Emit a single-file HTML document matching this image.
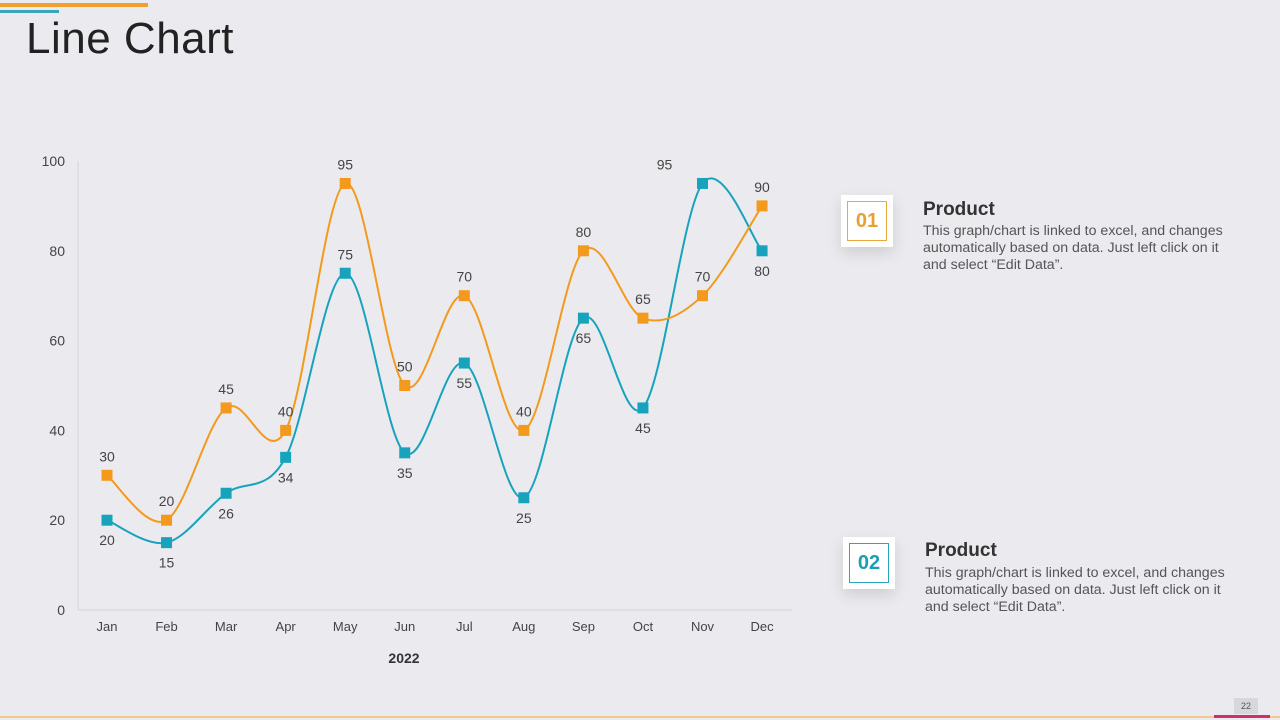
<!DOCTYPE html>
<html><head><meta charset="utf-8"><style>
body{margin:0;width:1280px;height:720px;background:#ebebef;font-family:"Liberation Sans",sans-serif;position:relative;overflow:hidden}
.title{position:absolute;left:26px;top:14px;font-size:44px;color:#222;font-weight:normal;letter-spacing:0.5px}
.card{position:absolute;width:52px;height:52px;background:#fff;box-shadow:0 6px 14px rgba(0,0,0,0.12)}
.card div{position:absolute;left:6px;top:6px;width:40px;height:40px;box-sizing:border-box;font-size:20px;font-weight:bold;display:flex;align-items:center;justify-content:center}
.ph{position:absolute;font-size:19px;font-weight:bold;color:#333}
.pt{position:absolute;font-size:14.2px;color:#555;line-height:17px;width:314px}
</style></head><body>
<div style="position:absolute;left:0;top:3px;width:148px;height:4px;background:#f0a030"></div>
<div style="position:absolute;left:0;top:10px;width:59px;height:3px;background:#3aa6b9"></div>
<div class="title">Line Chart</div>
<svg id="chart" width="1280" height="720" style="position:absolute;left:0;top:0"></svg>
<div class="card" style="left:841px;top:195px"><div style="border:1px solid #e8a93a;color:#e8a030">01</div></div>
<div class="ph" style="left:923px;top:199px">Product</div>
<div class="pt" style="left:923px;top:223px">This graph/chart is linked to excel, and changes automatically based on data. Just left click on it and select “Edit Data”.</div>
<div class="card" style="left:843px;top:537px"><div style="border:1px solid #2aa5bb;color:#1a9db5">02</div></div>
<div class="ph" style="left:925px;top:540px">Product</div>
<div class="pt" style="left:925px;top:565px">This graph/chart is linked to excel, and changes automatically based on data. Just left click on it and select “Edit Data”.</div>
<div style="position:absolute;left:1234px;top:698px;width:24px;height:16px;background:#d8d8dc;font-size:9px;color:#555;text-align:center;line-height:16px">22</div>
<div style="position:absolute;left:0;top:716px;width:1280px;height:2px;background:#f0c890"></div>
<div style="position:absolute;left:1214px;top:715px;width:56px;height:3px;background:#d0306a"></div>
<script>
const categories=["Jan","Feb","Mar","Apr","May","Jun","Jul","Aug","Sep","Oct","Nov","Dec"];
const seriesOrange=[30,20,45,40,95,50,70,40,80,65,70,90];
const seriesTeal=[20,15,26,34,75,35,55,25,65,45,95,80];
const yTicks=[0,20,40,60,80,100];
const tealLabelAbove=[false,false,false,false,true,false,false,false,false,false,true,false];
const NS="http://www.w3.org/2000/svg";
const svg=document.getElementById('chart');
const x=i=>107+i*59.55;
const y=v=>610-v*4.49;
function el(t,a,txt){const e=document.createElementNS(NS,t);for(const k in a)e.setAttribute(k,a[k]);if(txt!=null)e.textContent=txt;svg.appendChild(e);return e;}
let e;
e=el('line',{x1:78,y1:161,x2:78,y2:610,stroke:'#d6d6d6'});


e=el('line',{x1:78,y1:610,x2:792,y2:610,stroke:'#d6d6d6'});


yTicks.forEach(t=>{e=el('text',{x:65,y:y(t)+5,'text-anchor':'end','font-size':14,fill:'#444'},t);

});
categories.forEach((c,i)=>{e=el('text',{x:x(i),y:631,'text-anchor':'middle','font-size':13,fill:'#444'},c);

});
e=el('text',{x:404,y:663,'text-anchor':'middle','font-size':14,'font-weight':'bold',fill:'#333'},'2022');


function path(vals){const p=vals.map((v,i)=>[x(i),y(v)]);let d='M'+p[0];
for(let i=0;i<p.length-1;i++){const p0=p[i-1]||p[i],p1=p[i],p2=p[i+1],p3=p[i+2]||p2;
const c1=[p1[0]+(p2[0]-p0[0])/6,p1[1]+(p2[1]-p0[1])/6],c2=[p2[0]-(p3[0]-p1[0])/6,p2[1]-(p3[1]-p1[1])/6];
d+=' C'+c1+' '+c2+' '+p2;}return d;}
function series(vals,col,name,above){
e=el('path',{d:path(vals),fill:'none',stroke:col,'stroke-width':2});


vals.forEach((v,i)=>{e=el('rect',{x:x(i)-5.5,y:y(v)-5.5,width:11,height:11,fill:col});


const up=above(i);let lx=x(i);if(name==='teal-series'&&i===10)lx-=38;
e=el('text',{x:lx,y:up?y(v)-14:y(v)+25,'text-anchor':'middle','font-size':14,fill:'#444'},v);

});}
series(seriesTeal,'#18a3bd','teal-series',i=>tealLabelAbove[i]);
series(seriesOrange,'#f39a1c','orange-series',i=>true);
</script>
</body></html>
